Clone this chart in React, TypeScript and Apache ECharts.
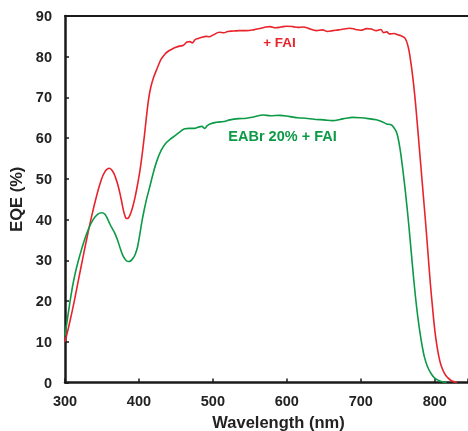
import React, { useEffect, useRef } from "react";
import * as echarts from "echarts";

const xTicks = [300, 400, 500, 600, 700, 800];
const yTicks = [0, 10, 20, 30, 40, 50, 60, 70, 80, 90];

const redName = "+ FAI";
const greenName = "EABr 20% + FAI";

// [wavelength (nm), EQE (%)]
const redData: number[][] = [
  [300, 10], [306, 14.5], [312, 19.5], [318, 25], [324, 30.5], [330, 35.8], [336, 40.8],
  [342, 45.3], [348, 49.2], [354, 51.8], [360, 52.6], [364, 52.0], [368, 50.5], [372, 48.2],
  [376, 45], [379, 42.3], [381, 41], [383, 40.3], [385, 40.3], [387, 40.8], [389, 41.6],
  [392, 43.4], [395, 45.7], [398, 48.5], [401, 51.6], [404, 55.5], [407, 60], [410, 65],
  [413, 69.5], [416, 72.5], [420, 75], [425, 77.3], [430, 79.4], [435, 80.6], [440, 81.4],
  [445, 81.9], [450, 82.3], [455, 82.6], [460, 82.8], [465, 83.6], [469, 83.7], [472, 83.4],
  [476, 84.2], [480, 84.5], [485, 84.8], [491, 85.0], [495, 84.9], [500, 85.3], [509, 86],
  [515, 85.9], [520, 86.2], [528, 86.3], [536, 86.4], [545, 86.4], [555, 86.6], [565, 87.0],
  [572, 87.3], [577, 87.4], [585, 87.1], [592, 87.3], [600, 87.5], [608, 87.4], [615, 87.2],
  [622, 87.3], [630, 86.9], [640, 86.4], [648, 86.6], [655, 86.2], [662, 86.4], [670, 86.6],
  [677, 86.8], [685, 87], [693, 86.7], [700, 86.5], [708, 86.9], [714, 86.8], [721, 86.4],
  [727, 86.7], [731, 85.9], [735, 86.1], [739, 85.6], [745, 85.7], [750, 85.4], [755, 85.1],
  [760, 84.5], [764, 82.5], [767, 79.5], [770, 75.5], [773, 70.5], [776, 64.5], [779, 58],
  [782, 51.5], [785, 45], [788, 38.5], [791, 31.5], [794, 24.5], [797, 18.5], [800, 13],
  [803, 9], [806, 6], [809, 4], [813, 2.3], [817, 1.3], [822, 0.5], [830, 0],
];

const greenData: number[][] = [
  [300, 11.5], [304, 16.5], [308, 21.3], [312, 25.3], [316, 28.5], [320, 31.2], [326, 34.8],
  [332, 37.8], [338, 40], [344, 41.3], [350, 41.7], [354, 41.3], [358, 40], [361, 38.8],
  [364, 37.8], [367, 36.8], [371, 35], [375, 32.8], [379, 30.9], [383, 29.9], [386, 29.7],
  [389, 29.9], [392, 30.5], [395, 31.5], [398, 33.2], [401, 36.2], [404, 39.5], [407, 42.3],
  [410, 44.8], [414, 47.6], [419, 51.2], [424, 54.3], [430, 57], [436, 58.7], [442, 59.7],
  [448, 60.5], [455, 61.5], [462, 62.3], [468, 62.4], [475, 62.4], [480, 62.7], [485, 62.9],
  [489, 62.4], [492, 63], [496, 63.5], [505, 63.9], [515, 64.1], [523, 64.5], [535, 64.8],
  [545, 64.9], [555, 65.2], [568, 65.7], [578, 65.5], [590, 65.6], [604, 65.3], [615, 65.0],
  [625, 64.9], [635, 64.7], [640, 64.6], [650, 64.5], [662, 64.3], [672, 64.6], [680, 64.9],
  [689, 65.1], [700, 65], [710, 64.8], [721, 64.5], [728, 64.1], [735, 63.5], [741, 63.3],
  [745, 62.5], [748, 61.6], [750, 60.4], [753, 57.5], [756, 53.5], [759, 49], [762, 44],
  [765, 38.5], [768, 32.5], [771, 26.5], [774, 21], [777, 16.3], [780, 12.3], [783, 9],
  [786, 6.3], [790, 4], [795, 2.2], [800, 1.1], [808, 0.3], [816, 0],
];

const RED = "#e8232b";
const GREEN = "#0c9a46";
const FONT = "'Liberation Sans', Arial, sans-serif";

export default function App() {
  const ref = useRef<HTMLDivElement>(null);
  useEffect(() => {
    if (!ref.current) return;
    const chart = echarts.init(ref.current, undefined, { renderer: "svg" });
    const axisLineStyle = { color: "#1a1a1a", width: 2.5 };
    chart.setOption({
      animation: false,
      grid: {
        left: 65,
        right: 0,
        top: 16,
        bottom: 48.5,
        containLabel: false,
        outerBoundsMode: "none",
      },
      xAxis: [
        {
          type: "value",
          min: 300,
          max: 845,
          interval: 100,
          name: "Wavelength (nm)",
          nameLocation: "middle",
          nameGap: 30.5,
          nameTextStyle: {
            fontFamily: FONT,
            fontWeight: "bold",
            fontSize: 16.5,
            color: "#222",
            padding: [0, 0, 0, 24],
          },
          axisLine: { show: true, onZero: false, lineStyle: axisLineStyle },
          axisTick: { show: true, inside: true, length: 4, lineStyle: { color: "#1a1a1a", width: 1.5 } },
          axisLabel: {
            fontFamily: FONT,
            fontWeight: "bold",
            fontSize: 14.5,
            color: "#222",
            margin: 11,
            formatter: (v: number) => (xTicks.includes(v) ? String(v) : ""),
          },
          splitLine: { show: false },
        },
        {
          type: "value",
          position: "top",
          min: 300,
          max: 845,
          axisLine: { show: true, onZero: false, lineStyle: { color: "#1a1a1a", width: 2 } },
          axisTick: { show: false },
          axisLabel: { show: false },
          splitLine: { show: false },
        },
      ],
      yAxis: {
        type: "value",
        min: 0,
        max: 90,
        interval: 10,
        name: "EQE (%)",
        nameLocation: "middle",
        nameGap: 40,
        nameTextStyle: {
          fontFamily: FONT,
          fontWeight: "bold",
          fontSize: 16.5,
          color: "#222",
        },
        axisLine: { show: true, onZero: false, lineStyle: axisLineStyle },
        axisTick: { show: true, inside: true, length: 4, lineStyle: { color: "#1a1a1a", width: 1.5 } },
        axisLabel: {
          fontFamily: FONT,
          fontWeight: "bold",
          fontSize: 14.5,
          color: "#222",
          margin: 13,
          formatter: (v: number) => (yTicks.includes(v) ? String(v) : ""),
        },
        splitLine: { show: false },
      },
      series: [
        {
          name: redName,
          type: "line",
          data: redData,
          smooth: 0.4,
          showSymbol: false,
          lineStyle: { color: RED, width: 1.6 },
          itemStyle: { color: RED },
        },
        {
          name: greenName,
          type: "line",
          data: greenData,
          smooth: 0.4,
          showSymbol: false,
          lineStyle: { color: GREEN, width: 1.6 },
          itemStyle: { color: GREEN },
        },
      ],
      graphic: [
        {
          type: "text",
          x: 279.5,
          y: 42,
          style: {
            text: redName,
            fill: RED,
            font: `bold 13.5px ${FONT}`,
            textAlign: "center",
            textVerticalAlign: "middle",
          },
        },
        {
          type: "text",
          x: 282.5,
          y: 135.5,
          style: {
            text: greenName,
            fill: GREEN,
            font: `bold 14.5px ${FONT}`,
            textAlign: "center",
            textVerticalAlign: "middle",
          },
        },
      ],
    });
    return () => chart.dispose();
  }, []);
  return (
    <div
      ref={ref}
      style={{ position: "fixed", left: 0, top: 0, width: 468, height: 431 }}
    />
  );
}
